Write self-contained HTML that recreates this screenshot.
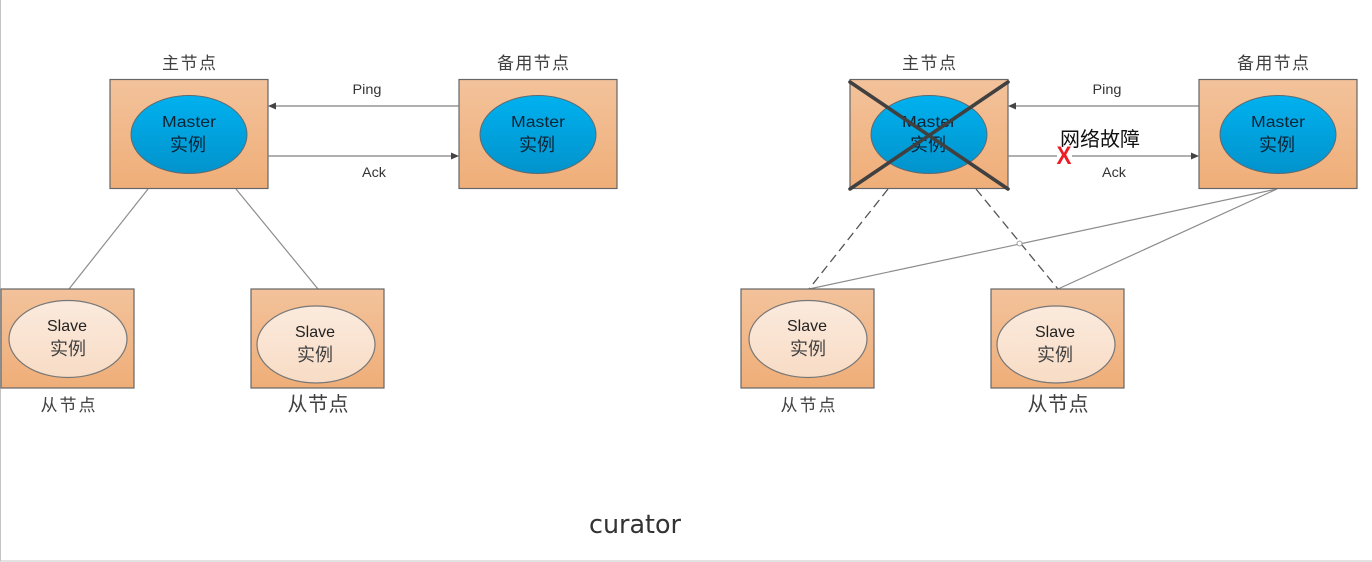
<!DOCTYPE html>
<html><head><meta charset="utf-8">
<style>
html,body{margin:0;padding:0;background:#fff;width:1372px;height:562px;overflow:hidden}
svg{display:block}
text{font-family:"Liberation Sans","Noto Sans CJK SC",sans-serif;text-anchor:middle}
.cn{fill:#404040;font-size:17px}
.m{fill:#0b2436;font-size:16px}
.s{fill:#222;font-size:16px}
.l{fill:#333;font-size:13.5px}
</style></head><body>
<svg width="1372" height="562" viewBox="0 0 1372 562" xmlns="http://www.w3.org/2000/svg">
<defs>
<linearGradient id="o" x1="0" y1="0" x2="0" y2="1"><stop offset="0" stop-color="#f3c29b"/><stop offset="1" stop-color="#efae78"/></linearGradient>
<linearGradient id="b" x1="0" y1="0" x2="0" y2="1"><stop offset="0" stop-color="#00b1ef"/><stop offset="1" stop-color="#0293cc"/></linearGradient>
<linearGradient id="c" x1="0" y1="0" x2="0" y2="1"><stop offset="0" stop-color="#fbeadd"/><stop offset="1" stop-color="#f8dcc5"/></linearGradient>
<g id="master">
<rect x="0" y="0.5" width="158" height="109" fill="url(#o)" stroke="#666" stroke-width="1.2"/>
<ellipse cx="79" cy="55.5" rx="58" ry="39" fill="url(#b)" stroke="#5f6a70" stroke-width="1"/>
</g>
<g id="slave">
<rect x="0" y="0" width="133" height="99" fill="url(#o)" stroke="#666" stroke-width="1.2"/>
</g>
</defs>
<rect width="1372" height="562" fill="#fff"/>
<line x1="0.5" y1="0" x2="0.5" y2="561" stroke="#c4c4c4"/>
<line x1="0" y1="561" x2="1372" y2="561" stroke="#c4c4c4"/>

<!-- LEFT -->
<line x1="148" y1="189" x2="69" y2="289" stroke="#8c8c8c" stroke-width="1.2"/>
<line x1="236" y1="189" x2="318" y2="289" stroke="#8c8c8c" stroke-width="1.2"/>
<use href="#master" x="110" y="79"/>
<use href="#master" x="459" y="79"/>
<line x1="274" y1="106" x2="459" y2="106" stroke="#808080" stroke-width="1.3"/>
<polygon points="268,106 276,102.5 276,109.5" fill="#444"/>
<line x1="268" y1="156" x2="452" y2="156" stroke="#808080" stroke-width="1.3"/>
<polygon points="459,156 451,152.5 451,159.5" fill="#444"/>
<text class="cn" x="189" y="69" textLength="54">主节点</text>
<text class="cn" x="533" y="69" textLength="72">备用节点</text>
<text class="l" x="367" y="94" textLength="29" lengthAdjust="spacingAndGlyphs">Ping</text>
<text class="l" x="374" y="177" textLength="24" lengthAdjust="spacingAndGlyphs">Ack</text>
<text class="m" x="189" y="127" textLength="54" lengthAdjust="spacingAndGlyphs">Master</text>
<text class="m" x="188" y="151" style="font-size:18px">实例</text>
<text class="m" x="538" y="127" textLength="54" lengthAdjust="spacingAndGlyphs">Master</text>
<text class="m" x="537" y="151" style="font-size:18px">实例</text>

<use href="#slave" x="1" y="289"/>
<ellipse cx="68" cy="339" rx="59" ry="38.5" fill="url(#c)" stroke="#777" stroke-width="1.2"/>
<text class="s" x="67" y="331" textLength="40" lengthAdjust="spacingAndGlyphs">Slave</text>
<text class="cn" x="68" y="355" style="font-size:18px">实例</text>
<text class="cn" x="68" y="411" textLength="55">从节点</text>

<use href="#slave" x="251" y="289"/>
<ellipse cx="316" cy="344.500" rx="59" ry="38.5" fill="url(#c)" stroke="#777" stroke-width="1.2"/>
<text class="s" x="315" y="337" textLength="40" lengthAdjust="spacingAndGlyphs">Slave</text>
<text class="cn" x="315" y="361" style="font-size:18px">实例</text>
<text class="cn" x="318" y="411" style="font-size:20px" textLength="61">从节点</text>

<!-- RIGHT -->
<line x1="888" y1="189" x2="809" y2="289" stroke="#555" stroke-width="1.3" stroke-dasharray="9 5"/>
<line x1="976" y1="189" x2="1058" y2="289" stroke="#555" stroke-width="1.3" stroke-dasharray="9 5"/>
<line x1="1277" y1="189" x2="809" y2="289" stroke="#8c8c8c" stroke-width="1.2"/>
<line x1="1277" y1="189" x2="1058" y2="289" stroke="#8c8c8c" stroke-width="1.2"/>
<circle cx="1019.500" cy="243.500" r="2.500" fill="#fff" stroke="#8c8c8c" stroke-width="0.8"/>
<use href="#master" x="850" y="79"/>
<use href="#master" x="1199" y="79"/>
<line x1="1014" y1="106" x2="1199" y2="106" stroke="#808080" stroke-width="1.3"/>
<polygon points="1008,106 1016,102.5 1016,109.500" fill="#444"/>
<line x1="1008" y1="156" x2="1192" y2="156" stroke="#808080" stroke-width="1.3"/>
<polygon points="1199,156 1191,152.5 1191,159.5" fill="#444"/>
<text class="cn" x="929" y="69" textLength="54">主节点</text>
<text class="cn" x="1273" y="69" textLength="72">备用节点</text>
<text class="l" x="1107" y="94" textLength="29" lengthAdjust="spacingAndGlyphs">Ping</text>
<text class="l" x="1114" y="177" textLength="24" lengthAdjust="spacingAndGlyphs">Ack</text>
<text class="m" x="929" y="127" textLength="54" lengthAdjust="spacingAndGlyphs">Master</text>
<text class="m" x="928" y="151" style="font-size:18px">实例</text>
<text class="m" x="1278" y="127" textLength="54" lengthAdjust="spacingAndGlyphs">Master</text>
<text class="m" x="1277" y="151" style="font-size:18px">实例</text>
<line x1="850" y1="82" x2="1008" y2="189" stroke="#404040" stroke-width="3.6" stroke-linecap="round"/>
<line x1="1008" y1="82" x2="850" y2="189" stroke="#404040" stroke-width="3.6" stroke-linecap="round"/>
<text x="1100" y="146" style="font-size:20px;fill:#111" textLength="80">网络故障</text>
<rect x="1057" y="147" width="15" height="18" fill="#fff"/>
<text x="1064" y="164" style="font-size:25px;font-weight:bold;fill:#ee1c25" textLength="15" lengthAdjust="spacingAndGlyphs">X</text>

<use href="#slave" x="741" y="289"/>
<ellipse cx="808" cy="339" rx="59" ry="38.5" fill="url(#c)" stroke="#777" stroke-width="1.2"/>
<text class="s" x="807" y="331" textLength="40" lengthAdjust="spacingAndGlyphs">Slave</text>
<text class="cn" x="808" y="355" style="font-size:18px">实例</text>
<text class="cn" x="808" y="411" textLength="55">从节点</text>

<use href="#slave" x="991" y="289"/>
<ellipse cx="1056" cy="344.5" rx="59" ry="38.5" fill="url(#c)" stroke="#777" stroke-width="1.2"/>
<text class="s" x="1055" y="337" textLength="40" lengthAdjust="spacingAndGlyphs">Slave</text>
<text class="cn" x="1055" y="361" style="font-size:18px">实例</text>
<text class="cn" x="1058" y="411" style="font-size:20px" textLength="61">从节点</text>

<text x="635" y="533" style="font-family:'DejaVu Sans',sans-serif;font-size:25.4px;fill:#333">curator</text>
</svg>
</body></html>
